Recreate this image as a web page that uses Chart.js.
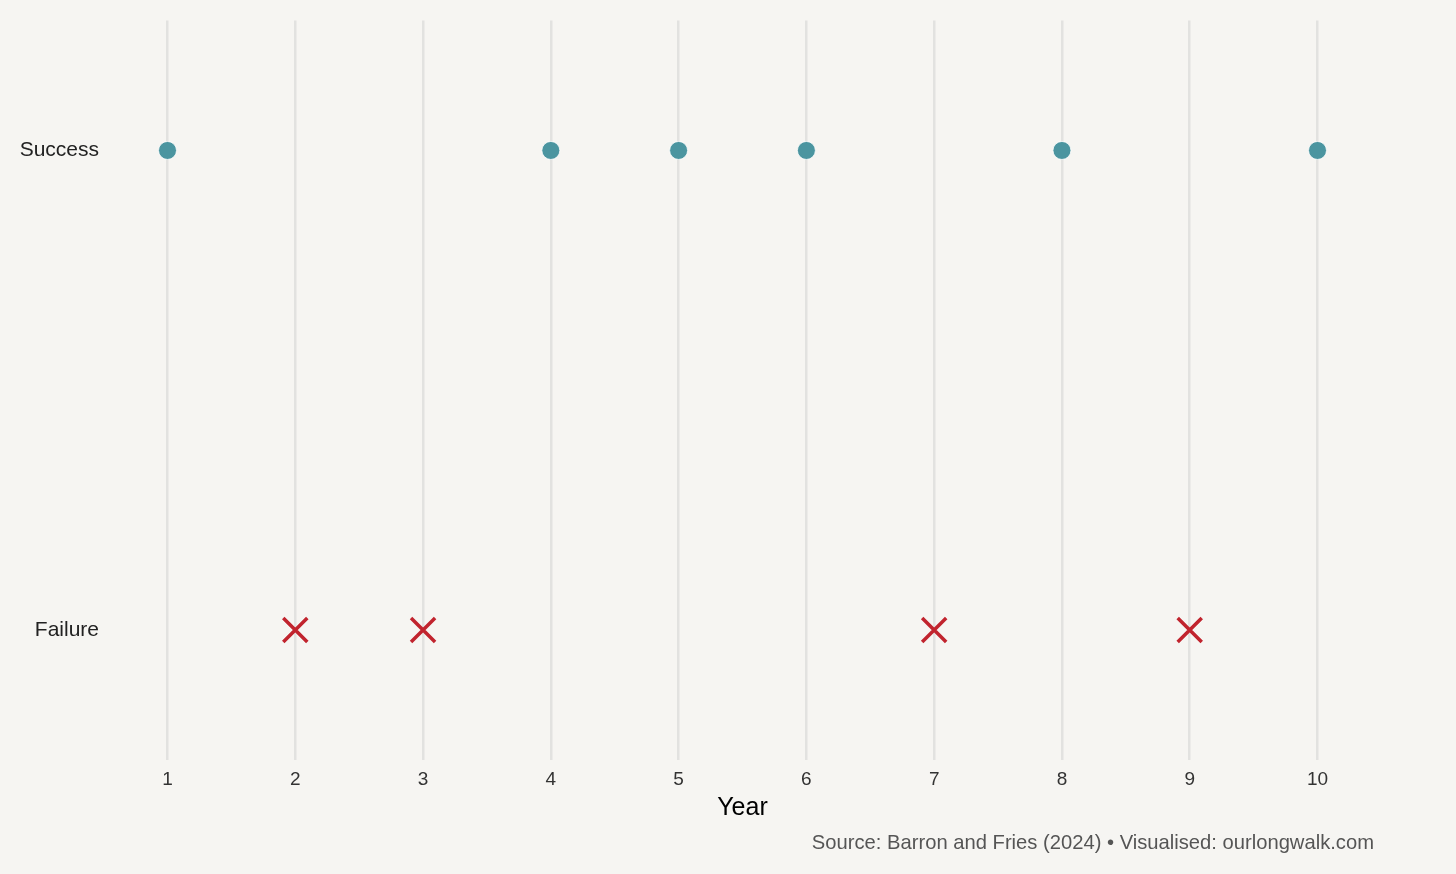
<!DOCTYPE html>
<html>
<head>
<meta charset="utf-8">
<script src="https://cdn.jsdelivr.net/npm/chart.js@4.4.1/dist/chart.umd.min.js"></script>
<style>
  html, body { margin: 0; padding: 0; background: #f6f5f2; }
  #wrap { width: 1456px; height: 874px; }
</style>
</head>
<body>
<div id="wrap"><canvas id="c"></canvas></div>
<script>
// outcome by year
const successYears = [1, 4, 5, 6, 8, 10];
const failureYears = [2, 3, 7, 9];
const outcomeLabels = { 1: "Failure", 2: "Success" };
const yearTicks = [1, 2, 3, 4, 5, 6, 7, 8, 9, 10];
const sourceText = "Source: Barron and Fries (2024) \u2022 Visualised: ourlongwalk.com";

const FONT = "'Liberation Sans', Arial, sans-serif";

const toPoints = (years, level) => years.map((y) => ({ x: y, y: level }));

// draws the background and the source note
const extras = {
  id: "extras",
  beforeDraw(chart) {
    const { ctx, width, height } = chart;
    ctx.save();
    ctx.fillStyle = "#f6f5f2";
    ctx.fillRect(0, 0, width, height);
    ctx.restore();
  },
  afterDraw(chart) {
    const { ctx } = chart;
    ctx.save();
    ctx.font = "20.2px " + FONT;
    ctx.fillStyle = "#555555";
    ctx.textAlign = "right";
    ctx.textBaseline = "middle";
    ctx.fillText(sourceText, 1374, 843);
    ctx.restore();
  },
};

new Chart(document.getElementById("c"), {
  type: "scatter",
  data: {
    datasets: [
      {
        label: "Success",
        data: toPoints(successYears, 2),
        pointStyle: "circle",
        pointRadius: 9,
        pointHoverRadius: 9,
        backgroundColor: "#4b95a0",
        borderColor: "#ffffff",
        borderWidth: 0.8,
      },
      {
        label: "Failure",
        data: toPoints(failureYears, 1),
        pointStyle: "crossRot",
        pointRadius: 17,
        pointHoverRadius: 17,
        borderColor: "#c1242e",
        borderWidth: 3.5,
      },
    ],
  },
  plugins: [extras],
  options: {
    responsive: true,
    maintainAspectRatio: false,
    animation: false,
    layout: { padding: { top: 20, right: 81, left: 0, bottom: 0 } },
    plugins: {
      legend: { display: false },
      tooltip: { enabled: false },
    },
    scales: {
      x: {
        type: "linear",
        min: 0.55,
        max: 10.45,
        afterBuildTicks: (scale) => {
          scale.ticks = yearTicks.map((v) => ({ value: v }));
        },
        afterFit: (scale) => {
          scale.height = 114;
          scale.paddingLeft = 0;
          scale.paddingRight = 0;
        },
        border: { display: false },
        grid: {
          color: "#e2e2e0",
          lineWidth: 2.5,
          drawTicks: false,
        },
        ticks: {
          padding: 8,
          color: "#333333",
          font: { family: FONT, size: 19 },
        },
        title: {
          display: true,
          text: "Year",
          color: "#000000",
          font: { family: FONT, size: 25 },
          padding: { top: 2, bottom: 51 },
        },
      },
      y: {
        type: "linear",
        min: 0.729,
        max: 2.271,
        afterBuildTicks: (scale) => {
          scale.ticks = [{ value: 1 }, { value: 2 }];
        },
        afterFit: (scale) => {
          scale.width = 110;
          scale.paddingTop = 0;
          scale.paddingBottom = 0;
        },
        border: { display: false },
        grid: { display: false, drawTicks: false },
        ticks: {
          padding: 11,
          color: "#222222",
          font: { family: FONT, size: 21 },
          callback: (v) => outcomeLabels[v] || "",
        },
      },
    },
  },
});
</script>
</body>
</html>
